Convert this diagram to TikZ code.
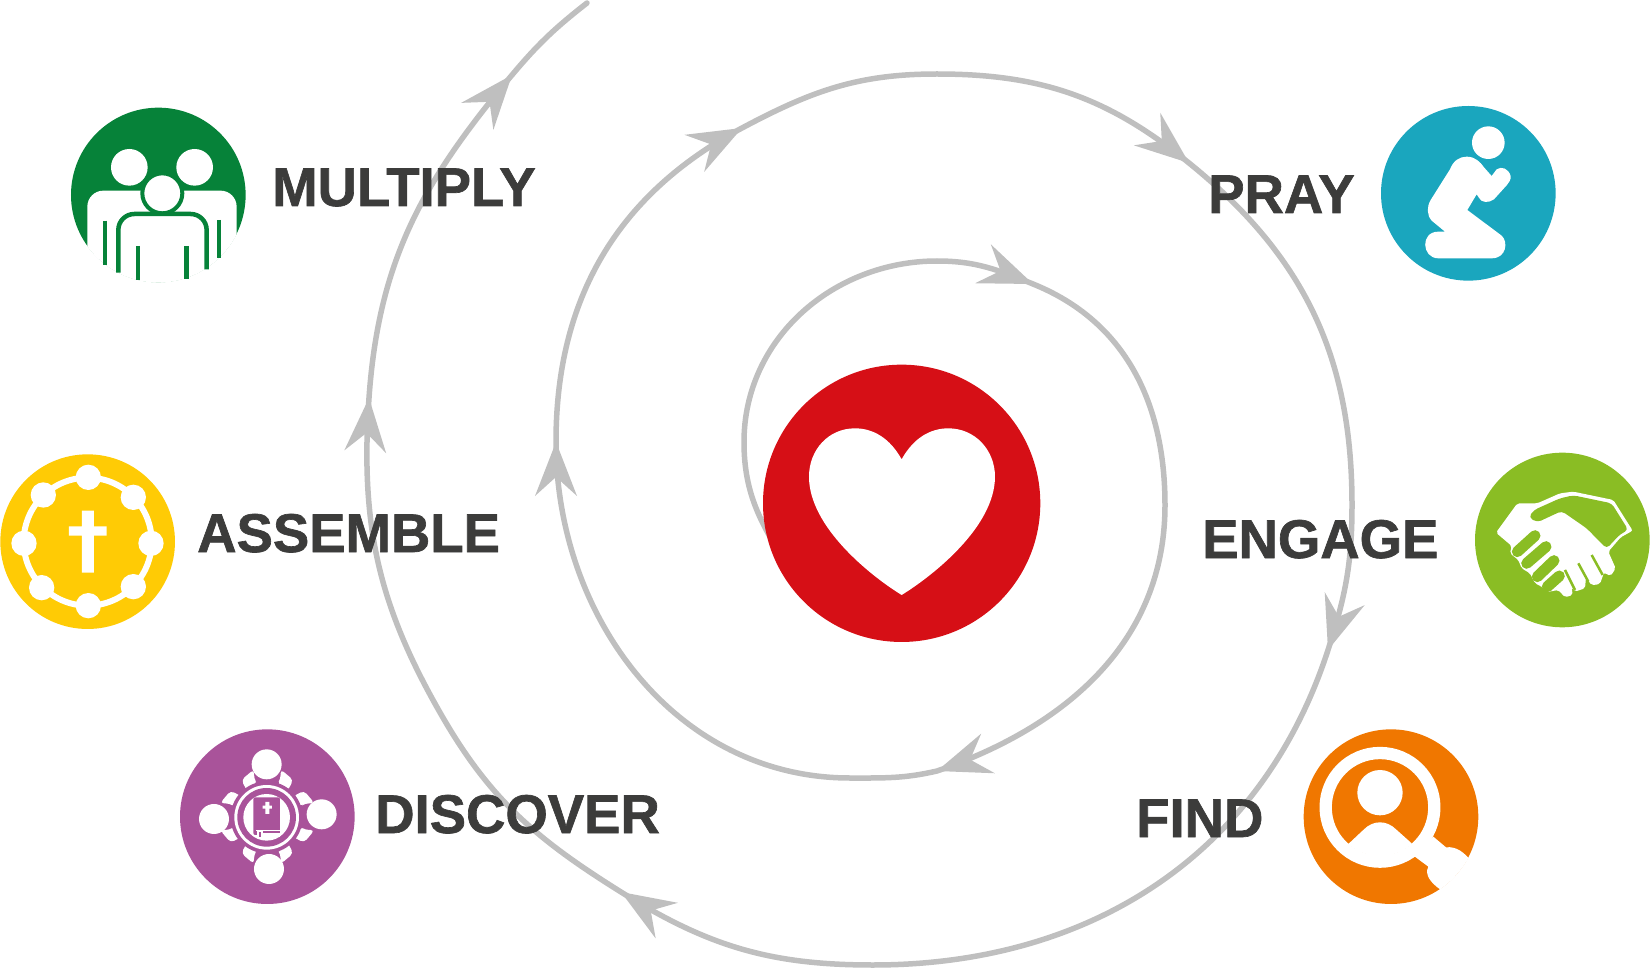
\documentclass[tikz,border=0pt]{standalone}
\usepackage{fontspec}
\setmainfont[BoldFeatures={FakeBold=1.2}]{Liberation Sans}
\definecolor{linegray}{HTML}{BFBFBF}
\definecolor{txtgray}{HTML}{3C3C3B}
\definecolor{multiplygreen}{HTML}{068239}
\definecolor{prayblue}{HTML}{1AA6BE}
\definecolor{assembleyellow}{HTML}{FFCB05}
\definecolor{engagegreen}{HTML}{8ABD24}
\definecolor{discoverpurple}{HTML}{A9539A}
\definecolor{findorange}{HTML}{F07700}
\definecolor{heartred}{HTML}{D60F16}
\tikzset{
  stagelabel/.style={font=\fontsize{54.5}{60}\selectfont\bfseries,text=txtgray,anchor=base west,inner sep=0pt},
  icon/.style 2 args={shift={(#1,#2)},x=0.3333pt,y=-0.3333pt},
  arrowtip/.pic={\fill[linegray] (0,0)--(-54,21)--(-35,0)--(-54,-21)--cycle;}
}
\begin{document}
\begin{tikzpicture}[x=1pt,y=-1pt,line cap=butt]
  \useasboundingbox (0,0) rectangle (1650,968);
  % spiral
  \coordinate (tipa) at (1033,284);
  \coordinate (tipb) at (937,771);
  \coordinate (tipc) at (556,442);
  \coordinate (tipd) at (742,128);
  \coordinate (tipe) at (1189,163);
  \coordinate (tipf) at (1328,650);
  \coordinate (tipg) at (621,892);
  \coordinate (tiph) at (369,398);
  \coordinate (tipi) at (512,75);
  \draw[linegray,line width=5.5pt,line cap=round] (790,570) to [out=122,in=270] (744,442)
    to [out=90,in=180] (937,261) to [out=0,in=158] (tipa) to [out=-22,in=90] (1165,505)
    to [out=-90,in=19] (tipb) to [out=193,in=0] (850,778) to [out=180,in=270] (tipc)
    to [out=90,in=208] (tipd) to [out=28,in=180] (937,74) to [out=0,in=141] (tipe)
    to [out=-39,in=90] (1352,505) to [out=-90,in=72] (tipf) to [out=252,in=0] (873,965)
    to [out=180,in=-32] (tipg) to [out=148,in=-60] (442,716) to [out=120,in=266] (tiph)
    to [out=86,in=230] (tipi) to [out=50,in=218] (587,3);
  \pic[rotate=-22] at (tipa) {arrowtip};
  \pic[rotate=199] at (tipb) {arrowtip};
  \pic[rotate=90] at (tipc) {arrowtip};
  \pic[rotate=28] at (tipd) {arrowtip};
  \pic[rotate=-39] at (tipe) {arrowtip};
  \pic[rotate=252] at (tipf) {arrowtip};
  \pic[rotate=148] at (tipg) {arrowtip};
  \pic[rotate=86] at (tiph) {arrowtip};
  \pic[rotate=50] at (tipi) {arrowtip};
  % heart
  \begin{scope}[icon={720}{340}]
    \fill[heartred] (545,490) circle(416);
    \fill[white] (545,358) .. controls (510,295) and (460,265) .. (405,265)
      .. controls (325,265) and (267,330) .. (267,410)
      .. controls (267,560) and (450,705) .. (537,760) -- (545,765) -- (553,760)
      .. controls (640,705) and (825,560) .. (825,410)
      .. controls (825,330) and (765,265) .. (685,265)
      .. controls (630,265) and (580,295) .. (545,358) -- cycle;
  \end{scope}
  % multiply
  \begin{scope}[icon={50}{90}]
    \fill[multiplygreen] (325,315) circle(262);
    \begin{scope}
      \clip (325,315) circle(263);
      \fill[white,rounded corners=16pt] (112,640)--(112,302)--(560,302)--(560,640)--cycle;
    \end{scope}
    \fill[white] (238,232) circle(55) (434,232) circle(55);
    \fill[white,draw=multiplygreen,line width=4pt] (337,310) circle(60);
    \draw[multiplygreen,line width=4.5pt,rounded corners=16pt] (205,548)--(205,372)--(470,372)--(470,538);
    \draw[multiplygreen,line width=4.5pt] (165,392)--(165,525) (507,390)--(507,505)
      (264,468)--(264,570) (410,468)--(410,566);
  \end{scope}
  % pray
  \begin{scope}[icon={1360}{90}]
    \fill[prayblue] (325,310) circle(262);
    \fill[white] (385,158) circle(49);
    \fill[white] (320,200) .. controls (345,200) and (360,215) .. (372,232)
      -- (395,258) -- (410,238) .. controls (425,228) and (445,235) .. (452,258)
      .. controls (453,270) and (447,278) .. (440,286) -- (402,328)
      .. controls (385,340) and (365,338) .. (358,325) -- (350,313) -- (322,360) -- (425,437)
      .. controls (445,455) and (440,505) .. (395,505) -- (235,505)
      .. controls (185,505) and (180,425) .. (235,425) -- (255,425) -- (215,392)
      .. controls (200,375) and (200,350) .. (212,330) -- (270,238)
      .. controls (280,212) and (298,200) .. (320,200) -- cycle;
  \end{scope}
  % assemble
  \begin{scope}[icon={0}{440}]
    \fill[assembleyellow] (263,305) circle(262);
    \draw[white,line width=6pt] (263,305) circle(192);
    \foreach \px/\py in {265/112,130/165,400/172,72/310,453/310,125/443,400/440,265/497}
      \fill[white] (\px,\py) circle(38);
    \fill[white] (246,212) rectangle (282,398) (207,259) rectangle (320,287);
  \end{scope}
  % engage
  \begin{scope}[icon={1460}{440}]
    \fill[engagegreen] (307,300) circle(262);
    \fill[white,rounded corners=2pt] (172,190)--(232,190)--(300,160)--(340,155)--(460,180)--(518,272)--(482,292)
      --(445,335)--(467,385)--(452,408)--(432,398)--(420,432)--(395,436)--(378,412)--(375,445)--(345,455)
      --(335,442)--(338,465)--(315,472)--(295,450)--(262,456)--(245,440)--(225,430)--(210,400)--(185,385)
      --(175,360)--(150,340)--(155,318)--(108,278)--cycle;
    \fill[engagegreen,rounded corners=4pt] (222,210)--(300,175)--(340,166)--(455,190)--(505,270)--(480,283)
      --(440,326)--(380,265)--(305,213)--(232,247)--(206,232)--cycle;
    \draw[engagegreen,line width=11pt,line cap=round] (225,287)--(172,335) (258,320)--(200,370)
      (282,362)--(232,410) (298,408)--(262,440);
    \draw[engagegreen,line width=2.5pt] (355,370)--(385,425) (395,345)--(428,405) (315,390)--(345,450);
  \end{scope}
  % discover
  \begin{scope}[icon={170}{720}]
    \fill[discoverpurple] (292,290) circle(262);
    \foreach \turn in {0,90,180,270}
      \fill[white,rounded corners=4pt,rotate around={\turn:(292,290)}]
        (252,148)--(214,180)--(232,214)--(262,192)--(252,176)--cycle
        (332,148)--(370,180)--(352,214)--(322,192)--(332,176)--cycle;
    \fill[white] (290,133) circle(45) (132,297) circle(45) (455,283) circle(45) (297,447) circle(45);
    \fill[discoverpurple] (290,292) circle(108);
    \fill[white] (290,292) circle(97);
    \fill[discoverpurple] (290,292) circle(88);
    \fill[white] (290,292) circle(70);
    \fill[discoverpurple,rounded corners=2pt] (250,232) rectangle (330,345);
    \fill[white] (286,246) rectangle (298,282) (278,257) rectangle (306,266);
    \fill[white] (258,329) rectangle (330,334);
    \fill[white] (262,329) rectangle (278,350);
    \fill[discoverpurple] (267,337) rectangle (273,350);
    \fill[white] (278,340) rectangle (330,350);
  \end{scope}
  % find
  \begin{scope}[icon={1290}{720}]
    \fill[findorange] (303,290) circle(262);
    \draw[white,line width=12.3pt] (270,262) circle(163);
    \fill[white] (270,218) circle(68);
    \begin{scope}
      \clip (270,262) circle(146);
      \fill[white] (175,372)--(222,328) .. controls (250,300) and (290,300) .. (318,328)
        --(365,370)--(365,420)--(175,420)--cycle;
    \end{scope}
    \begin{scope}
      \clip (303,290) circle(263);
      \fill[white] (430,350)--(468,382) .. controls (500,378) and (525,400) .. (540,420)
        --(600,520)--(450,540)--(450,508) .. controls (425,490) and (402,465) .. (415,440)--(372,408)--cycle;
    \end{scope}
  \end{scope}
  % labels
  \node[stagelabel] (multiply) at (272,206) {MULTIPLY};
  \node[stagelabel] (pray) at (1208,213) {PRAY};
  \node[stagelabel] (assemble) at (197,552) {ASSEMBLE};
  \node[stagelabel] (engage) at (1202,558) {ENGAGE};
  \node[stagelabel] (discover) at (375,833) {DISCOVER};
  \node[stagelabel] (find) at (1136,837) {FIND};
\end{tikzpicture}
\end{document}
